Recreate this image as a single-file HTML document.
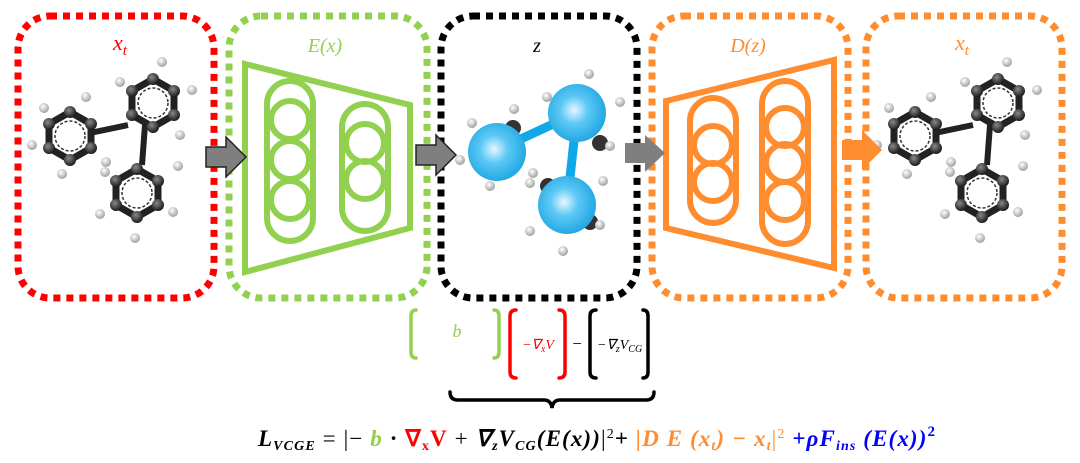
<!DOCTYPE html>
<html><head><meta charset="utf-8"><style>
html,body{margin:0;padding:0;background:#fff;width:1080px;height:463px;overflow:hidden}
svg{display:block}
text{font-family:"Liberation Serif",serif;font-style:italic}
</style></head><body>
<svg width="1080" height="463" viewBox="0 0 1080 463">
<defs>
<radialGradient id="bl" cx="0.45" cy="0.45" r="0.6"><stop offset="0" stop-color="#e8f7ff"/><stop offset="0.4" stop-color="#5cc8f5"/><stop offset="1" stop-color="#1aa3e0"/></radialGradient>
<radialGradient id="c" cx="0.4" cy="0.35" r="0.7"><stop offset="0" stop-color="#888"/><stop offset="1" stop-color="#111"/></radialGradient>
<radialGradient id="h" cx="0.4" cy="0.35" r="0.7"><stop offset="0" stop-color="#fff"/><stop offset="1" stop-color="#999"/></radialGradient>
<g id="ring">
<polygon points="0,-24 21,-12 21,12 0,24 -21,12 -21,-12" fill="none" stroke="#222" stroke-width="7"/>
<circle r="15" fill="none" stroke="#333" stroke-width="1.5" stroke-dasharray="3 2"/>
<g fill="url(#c)"><circle cx="0" cy="-24" r="6"/><circle cx="21" cy="-12" r="6"/><circle cx="21" cy="12" r="6"/><circle cx="0" cy="24" r="6"/><circle cx="-21" cy="12" r="6"/><circle cx="-21" cy="-12" r="6"/></g>
</g>
<g id="mol">
<line x1="90" y1="133" x2="128" y2="125" stroke="#222" stroke-width="6"/>
<line x1="145" y1="125" x2="142" y2="165" stroke="#222" stroke-width="6"/>
<g fill="url(#h)"><circle cx="44" cy="108" r="5"/><circle cx="32" cy="145" r="5"/><circle cx="62" cy="174" r="5"/><circle cx="86" cy="97" r="5"/><circle cx="120" cy="82" r="5"/><circle cx="162" cy="62" r="5"/><circle cx="192" cy="90" r="5"/><circle cx="180" cy="135" r="5"/><circle cx="106" cy="162" r="5"/><circle cx="105" cy="172" r="5"/><circle cx="178" cy="166" r="5"/><circle cx="173" cy="212" r="5"/><circle cx="135" cy="238" r="5"/><circle cx="100" cy="214" r="5"/></g>
<use href="#ring" transform="translate(70,136)"/>
<use href="#ring" transform="translate(153,103)"/>
<use href="#ring" transform="translate(137,193)"/>
</g>
</defs>
<g fill="none" stroke-width="7" stroke-dasharray="7 6">
<rect x="18" y="16" width="196" height="282" rx="32" stroke="#ff0000"/>
<rect x="229" y="16" width="198" height="282" rx="32" stroke="#92d050"/>
<rect x="441" y="16" width="196" height="282" rx="32" stroke="#000"/>
<rect x="652" y="16" width="196" height="282" rx="32" stroke="#ff8c2e"/>
<rect x="866" y="16" width="196" height="282" rx="32" stroke="#ff8c2e"/>
</g>
<text x="120" y="50" font-size="22" fill="#ff0000" text-anchor="middle">x<tspan font-size="15" dy="5">t</tspan></text>
<text x="325" y="52" font-size="20" fill="#92d050" text-anchor="middle">E(x)</text>
<text x="537" y="52" font-size="20" fill="#000" text-anchor="middle">z</text>
<text x="748" y="52" font-size="20" fill="#ff8c2e" text-anchor="middle">D(z)</text>
<text x="962" y="50" font-size="22" fill="#ff8c2e" text-anchor="middle">x<tspan font-size="15" dy="5">t</tspan></text>
<use href="#mol"/>
<use href="#mol" transform="translate(845,0)"/>
<g fill="none" stroke="#92d050" stroke-width="6">
<polygon points="245,64 410,105 410,228 245,272"/>
<rect x="267" y="81" width="46" height="160" rx="23"/>
<circle cx="290" cy="120" r="19"/><circle cx="290" cy="160" r="19"/><circle cx="290" cy="200" r="19"/>
<rect x="342" y="104" width="46" height="127" rx="23"/>
<circle cx="365" cy="143" r="19"/><circle cx="365" cy="180" r="19"/>
</g>
<g fill="none" stroke="#ff8c2e" stroke-width="6">
<polygon points="666,101 834,60 834,268 666,228"/>
<rect x="690" y="98" width="46" height="125" rx="23"/>
<circle cx="713" cy="145" r="19"/><circle cx="713" cy="182" r="19"/>
<rect x="762" y="81" width="46" height="163" rx="23"/>
<circle cx="785" cy="127" r="19"/><circle cx="785" cy="163" r="19"/><circle cx="785" cy="201" r="19"/>
</g>
<g>
<g fill="#333"><circle cx="513" cy="128" r="8"/><circle cx="600" cy="143" r="8"/><circle cx="548" cy="186" r="8"/><circle cx="590" cy="222" r="8"/></g>
<g fill="url(#h)"><circle cx="472" cy="123" r="5"/><circle cx="514" cy="109" r="5"/><circle cx="460" cy="160" r="5"/><circle cx="490" cy="186" r="5"/><circle cx="533" cy="173" r="5"/><circle cx="547" cy="97" r="5"/><circle cx="589" cy="74" r="5"/><circle cx="620" cy="102" r="5"/><circle cx="610" cy="146" r="5"/><circle cx="603" cy="181" r="5"/><circle cx="530" cy="231" r="5"/><circle cx="600" cy="225" r="5"/><circle cx="563" cy="251" r="5"/><circle cx="530" cy="183" r="5"/></g>
<line x1="497" y1="150" x2="577" y2="113" stroke="#0fa8e8" stroke-width="9"/>
<line x1="577" y1="113" x2="567" y2="205" stroke="#0fa8e8" stroke-width="9"/>
<circle cx="497" cy="152" r="29" fill="url(#bl)"/>
<circle cx="577" cy="113" r="29" fill="url(#bl)"/>
<circle cx="567" cy="205" r="29" fill="url(#bl)"/>
</g>
<polygon points="206,147 226,147 226,137 246,157 226,177 226,167 206,167" fill="#7f7f7f" stroke="#222" stroke-width="1.5"/>
<polygon points="416,145 436,145 436,135 456,155 436,175 436,165 416,165" fill="#7f7f7f" stroke="#222" stroke-width="1.5"/>
<polygon points="625,143 645,143 645,135 665,153 645,172 645,163 625,163" fill="#7f7f7f"/>
<polygon points="842,140 862,140 862,130 882,150 862,170 862,160 842,160" fill="#ff8c2e"/>
<g fill="none" stroke-width="3.5" stroke-linecap="round">
<path d="M416,310 Q411,310 411,316 L411,352 Q411,358 416,358" stroke="#92d050"/>
<path d="M494,310 Q499,310 499,316 L499,352 Q499,358 494,358" stroke="#92d050"/>
<path d="M516,310 Q510,310 510,316 L510,372 Q510,378 516,378" stroke="#ff0000"/>
<path d="M559,310 Q565,310 565,316 L565,372 Q565,378 559,378" stroke="#ff0000"/>
<path d="M596,310 Q590,310 590,316 L590,372 Q590,378 596,378" stroke="#000"/>
<path d="M643,310 Q648,310 648,316 L648,372 Q648,378 643,378" stroke="#000"/>
<path d="M450,392 Q450,400 458,400 L544,400 Q551,400 552,408 Q553,400 560,400 L646,400 Q654,400 654,392" stroke="#000"/>
</g>
<text x="457" y="337" font-size="18" fill="#92d050" text-anchor="middle">b</text>
<text x="538" y="349" font-size="14" fill="#ff0000" text-anchor="middle">−∇<tspan font-size="10" dy="3">x</tspan><tspan dy="-3">V</tspan></text>
<text x="577" y="349" font-size="17" fill="#000" text-anchor="middle" font-style="normal">−</text>
<text x="597" y="349" font-size="14" fill="#000">−∇<tspan font-size="10" dy="3">z</tspan><tspan dy="-3">V</tspan><tspan font-size="10" dy="3">CG</tspan></text>
<text x="258" y="446" font-size="23" font-weight="bold" fill="#000" textLength="677" lengthAdjust="spacing">L<tspan font-size="14" dy="4">VCGE</tspan><tspan dy="-4" font-style="normal" font-weight="normal"> = |− </tspan><tspan fill="#92d050">b</tspan><tspan font-style="normal"> · </tspan><tspan fill="#ff0000" font-style="normal">∇<tspan font-size="14" dy="4">x</tspan><tspan dy="-4">V</tspan></tspan><tspan font-style="normal" font-weight="normal"> + </tspan>∇<tspan font-size="14" dy="4">z</tspan><tspan dy="-4">V</tspan><tspan font-size="14" dy="4">CG</tspan><tspan dy="-4">(E(x))</tspan><tspan font-style="normal" font-weight="normal">|</tspan><tspan font-size="14" dy="-8" font-style="normal" font-weight="normal">2</tspan><tspan dy="8" font-style="normal">+ </tspan><tspan fill="#ff8c2e">|D E (x<tspan font-size="14" dy="4">t</tspan><tspan dy="-4">) − x</tspan><tspan font-size="14" dy="4">t</tspan><tspan dy="-4" font-style="normal" font-weight="normal">|</tspan><tspan font-size="14" dy="-8" font-style="normal" font-weight="normal">2</tspan></tspan><tspan fill="#0000ff" dy="8">  +ρF<tspan font-size="14" dy="4">ins</tspan><tspan dy="-4"> (E(x))</tspan><tspan font-size="15" dy="-10" font-style="normal">2</tspan></tspan></text>
</svg>
</body></html>
